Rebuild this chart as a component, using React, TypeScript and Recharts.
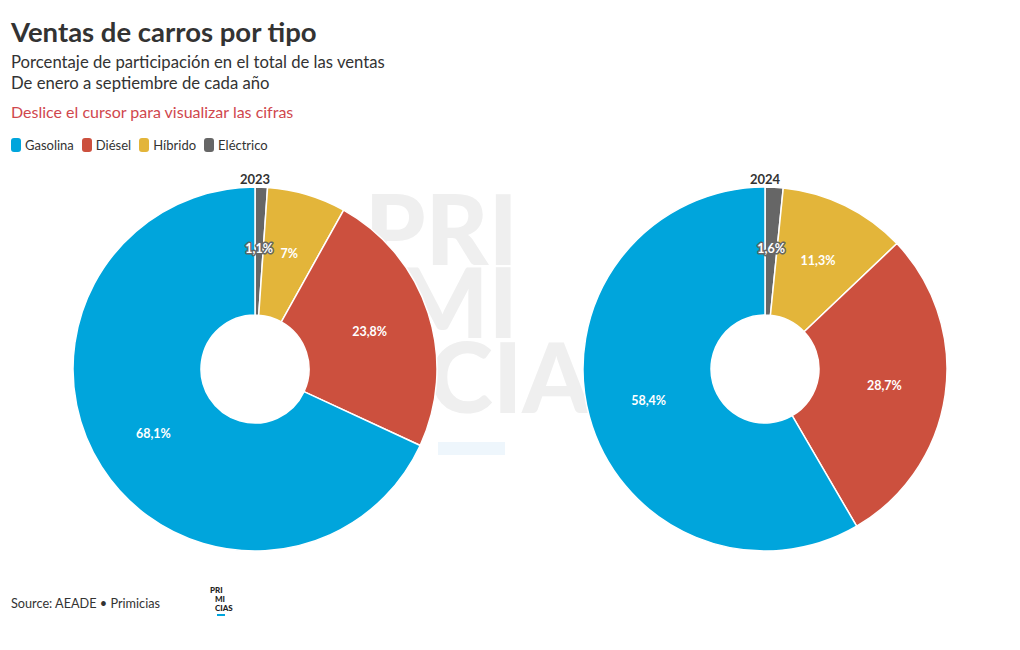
import React from 'react';
import { PieChart, Pie, Cell } from 'recharts';

const categories = ['Eléctrico', 'Híbrido', 'Diésel', 'Gasolina'];
const values2023 = [1.1, 7, 23.8, 68.1];
const values2024 = [1.6, 11.3, 28.7, 58.4];
const years = ['2023', '2024'];
const legendOrder = ['Gasolina', 'Diésel', 'Híbrido', 'Eléctrico'];

const COLORS: Record<string, string> = {
  Gasolina: '#00a5dc',
  'Diésel': '#cc503e',
  'Híbrido': '#e3b53a',
  'Eléctrico': '#666666',
};

const FONT = 'Lato, "Noto Sans", sans-serif';
const RADIAN = Math.PI / 180;

const toRows = (vals: number[]) => categories.map((name, i) => ({ name, value: vals[i] }));

const fmt = (v: number) => String(v).replace('.', ',') + '%';

const renderLabel = (props: any) => {
  const { cx, cy, midAngle, innerRadius, outerRadius, value, name } = props;
  const r = innerRadius + (outerRadius - innerRadius) * 0.52;
  const x = cx + r * Math.cos(-midAngle * RADIAN);
  const y = cy + r * Math.sin(-midAngle * RADIAN);
  return (
    <text
      x={x}
      y={y}
      fill="#ffffff"
      stroke={COLORS[name]}
      strokeWidth={3}
      paintOrder="stroke"
      strokeLinejoin="round"
      textAnchor="middle"
      dominantBaseline="central"
      fontSize={12.5}
      fontWeight={700}
      fontFamily={FONT}
    >
      {fmt(value)}
    </text>
  );
};

// faint brand watermark behind the charts
const Watermark = () => (
  <svg width={1020} height={650} style={{ position: 'absolute', left: 0, top: 0 }}>
    <g fill="#efefef" fontFamily={FONT} fontWeight={900} fontSize={97}>
      <text x={518} y={265} textAnchor="end">PRI</text>
      <text x={518} y={338} textAnchor="end">MI</text>
      <text x={429} y={413}>CIA</text>
    </g>
    <rect x={438} y={442} width={67} height={13} fill="#eef6fc" />
  </svg>
);

const App: React.FC = () => {
  const pies = [values2023, values2024];
  const centers = [255, 765];
  return (
    <div style={{ position: 'absolute', left: 0, top: 0, width: 1020, height: 650, background: '#fff', fontFamily: FONT, color: '#333' }}>
      <Watermark />
      <div style={{ position: 'absolute', left: 11, top: 15, fontSize: 27.5, fontWeight: 700, color: '#333' }}>
        Ventas de carros por tipo
      </div>
      <div style={{ position: 'absolute', left: 11, top: 52, fontSize: 16.7, lineHeight: '21px', color: '#333' }}>
        Porcentaje de participación en el total de las ventas
        <br />
        De enero a septiembre de cada año
      </div>
      <div style={{ position: 'absolute', left: 11, top: 102, fontSize: 16, color: '#d0474d' }}>
        Deslice el cursor para visualizar las cifras
      </div>
      <div style={{ position: 'absolute', left: 11, top: 137, display: 'flex', fontSize: 13, color: '#333' }}>
        {legendOrder.map((n) => (
          <div key={n} style={{ display: 'flex', alignItems: 'center', marginRight: 8 }}>
            <span style={{ display: 'inline-block', width: 10, height: 14, borderRadius: 3, background: COLORS[n], marginRight: 4 }} />
            {n}
          </div>
        ))}
      </div>
      <div style={{ position: 'absolute', left: 0, top: 0 }}>
        <PieChart width={1020} height={650} margin={{ top: 0, right: 0, bottom: 0, left: 0 }}>
          {pies.map((vals, k) => (
            <Pie
              key={years[k]}
              data={toRows(vals)}
              dataKey="value"
              nameKey="name"
              cx={centers[k]}
              cy={369}
              innerRadius={54}
              outerRadius={182}
              startAngle={90}
              endAngle={-270}
              stroke="#ffffff"
              strokeWidth={1.5}
              label={renderLabel}
              labelLine={false}
              isAnimationActive={false}
            >
              {categories.map((c) => (
                <Cell key={c} fill={COLORS[c]} />
              ))}
            </Pie>
          ))}
          {years.map((y, k) => (
            <text key={y} x={centers[k]} y={179} textAnchor="middle" dominantBaseline="central" fontSize={13} fontWeight={700} fill="#333" fontFamily={FONT}>
              {y}
            </text>
          ))}
        </PieChart>
      </div>
      <div style={{ position: 'absolute', left: 11, top: 595, fontSize: 12.7, color: '#333' }}>
        Source: AEADE • Primicias
      </div>
      <div style={{ position: 'absolute', left: 210, top: 586, fontSize: 8, fontWeight: 900, lineHeight: '9px', color: '#222', fontFamily: FONT }}>
        <div>PRI</div>
        <div style={{ paddingLeft: 5 }}>MI</div>
        <div style={{ paddingLeft: 5 }}>CIAS</div>
        <div style={{ marginLeft: 7, marginTop: 1, width: 8, height: 2, background: '#00a5dc' }} />
      </div>
    </div>
  );
};

export default App;
